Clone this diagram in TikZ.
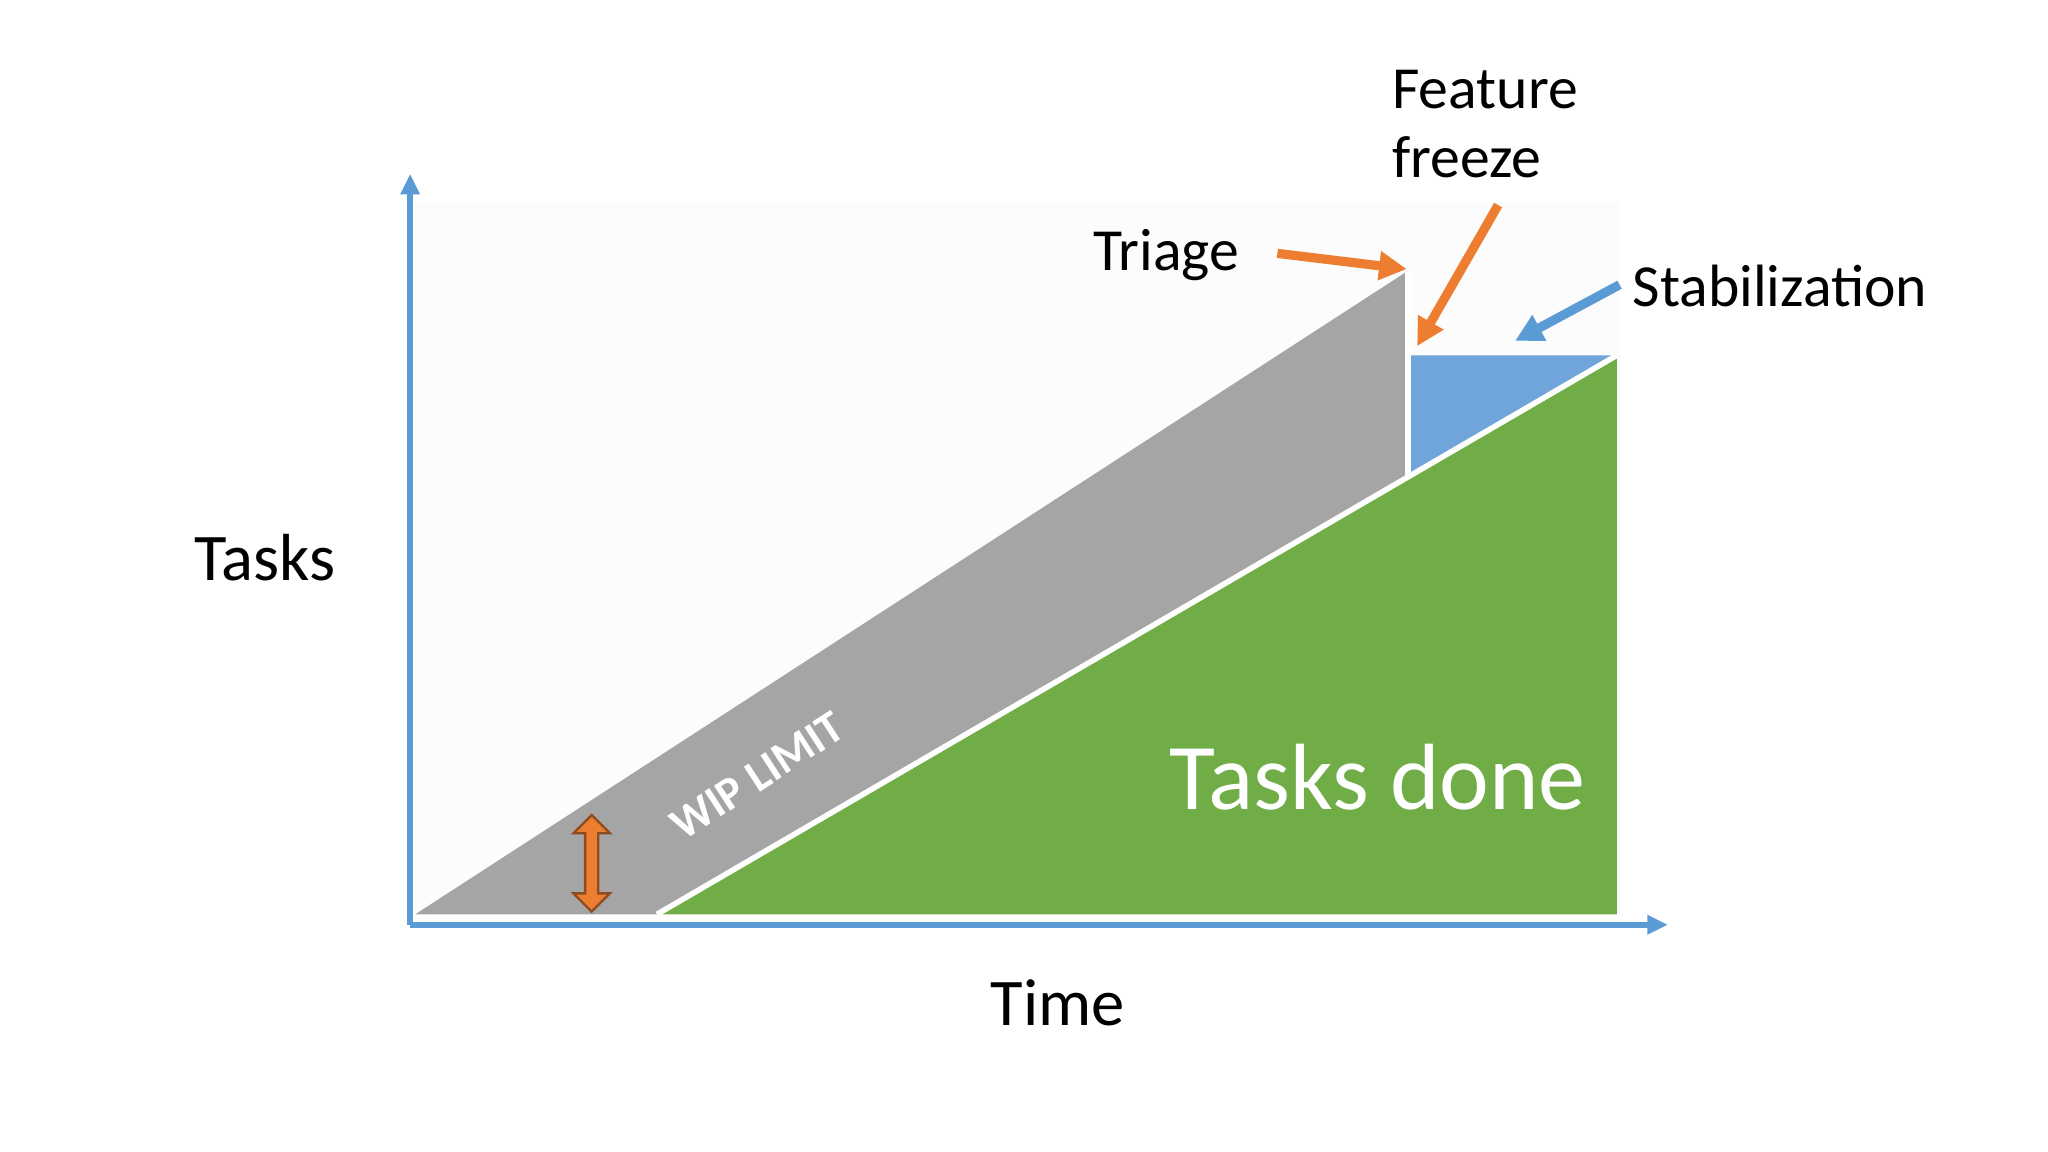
\documentclass[tikz,border=0pt]{standalone}
\usepackage{fontspec}
\setmainfont{Carlito}
\usetikzlibrary{arrows.meta}
\definecolor{axisblue}{HTML}{5B9BD5}
\definecolor{wipgray}{HTML}{A6A5A6}
\definecolor{donegreen}{HTML}{70AD47}
\definecolor{stabblue}{HTML}{6FA5DB}
\definecolor{arrorange}{HTML}{ED7D31}
\tikzset{
 axis/.style={axisblue,line width=1.3pt,-{Triangle[length=4.5pt,width=4pt]}},
 callout/.style={line width=2pt,-{Triangle[length=6pt,width=6pt]}},
 lbl/.style={font=\fontsize{13}{15}\selectfont,text=black,align=left},
}
\begin{document}
\begin{tikzpicture}[x=0.01cm,y=-0.01cm]
\useasboundingbox (0,0) rectangle (1568,882);
\fill[white] (0,0) rectangle (1568,882);
\fill[black!1] (318,155) rectangle (1240,700);
% regions
\fill[wipgray] (318,700) -- (1077,208) -- (1077,365) -- (503,700) -- cycle;
\fill[donegreen] (503,700) -- (1238,272) -- (1238,700) -- cycle;
\fill[stabblue] (1080,272) -- (1238,272) -- (1080,365) -- cycle;
\draw[white,line width=1.2pt] (503,700) -- (1238,272);
\draw[white,line width=1.2pt] (1078,208) -- (1078,366);
% axes
\coordinate (o) at (314,708);
\coordinate (ytop) at (314,133);
\coordinate (xend) at (1277,708);
\draw[axis] (o) -- (ytop);
\draw[axis] (o) -- (xend);
% labels
\node[lbl] (tasks) at (203,427) {\fontsize{14.5}{16}\selectfont Tasks};
\node[lbl] (time) at (810,768) {\fontsize{14.5}{16}\selectfont Time};
\node[lbl] (triage) at (893,195) {Triage};
\node[lbl,align=left] (ff) at (1137,95) {Feature\\freeze};
\node[lbl] (stab) at (1363,219) {Stabilization};
\node[text=white,font=\fontsize{20.5}{24}\selectfont] (done) at (1055,595) {Tasks done};
\node[text=white,font=\bfseries\fontsize{10}{12}\selectfont,rotate=33,inner sep=0pt] (wip) at (580,594) {WIP LIMIT};
% callouts
\coordinate (trA) at (978,194); \coordinate (trB) at (1077,206);
\coordinate (ffA) at (1147,157); \coordinate (ffB) at (1085,265);
\coordinate (stA) at (1240,218); \coordinate (stB) at (1160,261);
\draw[callout,arrorange] (trA) -- (trB);
\draw[callout,arrorange] (ffA) -- (ffB);
\draw[callout,axisblue] (stA) -- (stB);
% WIP double arrow
\coordinate (wiparrow) at (453,661);
\filldraw[fill=arrorange,draw=arrorange!60!black,line width=0.5pt]
 (453,624) -- (467,638) -- (458,638) -- (458,684) -- (467,684) -- (453,698)
 -- (439,684) -- (448,684) -- (448,638) -- (439,638) -- cycle;
\end{tikzpicture}
\end{document}
